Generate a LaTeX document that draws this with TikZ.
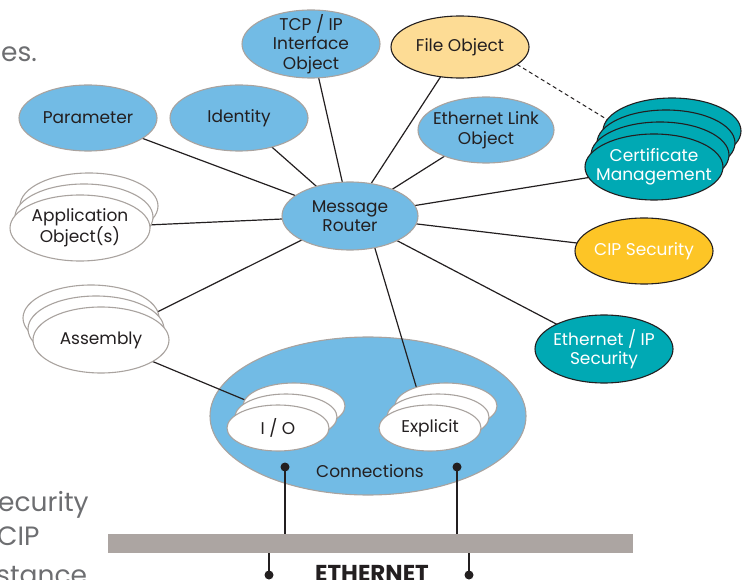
\documentclass[tikz,border=0pt]{standalone}
\usepackage{fontspec}
\setmainfont{Poppins}
\usetikzlibrary{shapes.geometric}
\definecolor{cipblue}{HTML}{72BBE5}
\definecolor{rimgray}{HTML}{A9A39F}
\definecolor{inkdark}{HTML}{231F20}
\definecolor{filefill}{HTML}{FDDC95}
\definecolor{tealfill}{HTML}{00A9B4}
\definecolor{yellowfill}{HTML}{FDC526}
\definecolor{barfill}{HTML}{ACA5A2}
\definecolor{sidegray}{HTML}{6D6E71}
\pgfdeclarelayer{connlayer}
\pgfdeclarelayer{edgelayer}
\pgfsetlayers{connlayer,edgelayer,main}
\begin{document}
\begin{tikzpicture}[x=1pt,y=-1pt,
  oval/.style={ellipse, inner sep=0pt, outer sep=0pt, line width=1.1pt, minimum width=138pt, minimum height=66pt},
  blueobj/.style={oval, fill=cipblue, draw=rimgray},
  whiteobj/.style={oval, fill=white, draw=rimgray},
  tealobj/.style={oval, fill=tealfill, draw=inkdark},
  txt/.style={font=\fontsize{17}{19.5}\selectfont, text=inkdark, align=center, inner sep=0pt},
  wtxt/.style={txt, text=white},
  sidetxt/.style={font=\fontsize{26.5}{30}\selectfont, text=sidegray, inner sep=0pt},
  wire/.style={draw=inkdark, line width=1.2pt},
  dot/.style={circle, fill=inkdark, inner sep=0pt, minimum size=9pt},
  ]
\useasboundingbox (0,0) rectangle (742,580);
\clip (0,0) rectangle (742,580);

% side texts (cut off at the picture edge)
\node[sidetxt, anchor=base west] (side1) at (1,62) {es.};
\node[sidetxt, anchor=base west] (side2) at (-2,511) {ecurity};
\node[sidetxt, anchor=base west] (side3) at (-3,545) {CIP};
\node[sidetxt, anchor=base west] (side4) at (-4,584) {stance};

% connections ellipse (bottom layer)
\begin{pgfonlayer}{connlayer}
\node[blueobj, minimum width=316pt, minimum height=158pt] (conn) at (368,416) {};
\end{pgfonlayer}

% objects
\node[blueobj, label={[txt]center:Parameter}] (param) at (88,118) {};
\node[blueobj, label={[txt]center:Identity}] (ident) at (239,118) {};
\node[blueobj, minimum height=68pt, label={[txt]center:{TCP / IP\\Interface\\Object}}] (tcp) at (311,44) {};
\node[oval, fill=filefill, draw=inkdark, minimum height=62pt, label={[txt]center:File Object}] (fileo) at (460,47) {};
\node[blueobj, minimum width=136pt, label={[txt]center:{Ethernet Link\\Object}}] (elink) at (486,130) {};
\node[blueobj, minimum width=136pt, minimum height=68pt, label={[txt]center:{Message\\Router}}] (mr) at (350,216) {};

% certificate management stack
\node[tealobj] (cm4) at (672,131) {};
\node[tealobj] (cm3) at (666,143) {};
\node[tealobj] (cm2) at (660,155) {};
\node[tealobj, label={[wtxt]center:{Certificate\\Management}}] (cm1) at (654,167) {};

\node[oval, fill=yellowfill, draw=inkdark, label={[wtxt]center:CIP Security}] (cip) at (644,251) {};
\node[tealobj, minimum height=68pt, label={[wtxt]center:{Ethernet / IP\\Security}}] (eips) at (604,349) {};

% application objects stack
\node[whiteobj] (app3) at (89,206) {};
\node[whiteobj] (app2) at (84,217) {};
\node[whiteobj, minimum width=140pt, label={[txt]center:{Application\\Object(s)}}] (app1) at (80,228) {};

% assembly stack
\node[whiteobj, minimum width=136pt] (asm3) at (91,318) {};
\node[whiteobj, minimum width=136pt] (asm2) at (96,329) {};
\node[whiteobj, minimum width=136pt, label={[txt]center:Assembly}] (asm1) at (101,340) {};

% I/O stack
\node[whiteobj, minimum width=102pt, minimum height=46pt] (io3) at (294,406) {};
\node[whiteobj, minimum width=102pt, minimum height=46pt] (io2) at (286,417) {};
\node[whiteobj, minimum width=102pt, minimum height=46pt, label={[txt]center:I / O}] (io1) at (278,428) {};

% explicit stack
\node[whiteobj, minimum width=102pt, minimum height=46pt] (ex3) at (446,406) {};
\node[whiteobj, minimum width=102pt, minimum height=46pt] (ex2) at (438,417) {};
\node[whiteobj, minimum width=102pt, minimum height=46pt, label={[txt]center:Explicit}] (ex1) at (430,428) {};

\node[txt] (conntxt) at (370,471) {Connections};

% connectors (behind the objects)
\begin{pgfonlayer}{edgelayer}
\foreach \t in {param,ident,tcp,fileo,elink,cm1,cip,eips,app1,asm1}
  \draw[wire] (mr.center) -- (\t.center);
\draw[wire] (asm1.center) -- (io2.center);
\draw[wire] (mr.-52) -- (ex1.110);
\end{pgfonlayer}

\draw[inkdark, line width=1pt, dash pattern=on 4pt off 3pt] (fileo.-17) -- (cm4.170);

% ethernet bus
\node[fill=barfill, inner sep=0pt, minimum width=525pt, minimum height=19pt] (bar) at (370.5,543.5) {};
\node[dot] (d1) at (285,467) {};
\node[dot] (d2) at (457,467) {};
\node[dot] (d3) at (269,575) {};
\node[dot] (d4) at (469,575) {};
\draw[wire] (d1.center) -- (d1 |- bar.north);
\draw[wire] (d2.center) -- (d2 |- bar.north);
\draw[wire] (d3.center) -- (d3 |- bar.south);
\draw[wire] (d4.center) -- (d4 |- bar.south);
\node[font=\fontsize{23}{27}\selectfont\bfseries, text=inkdark, anchor=base, inner sep=0pt] (eth) at (372,581) {ETHERNET};
\end{tikzpicture}
\end{document}
